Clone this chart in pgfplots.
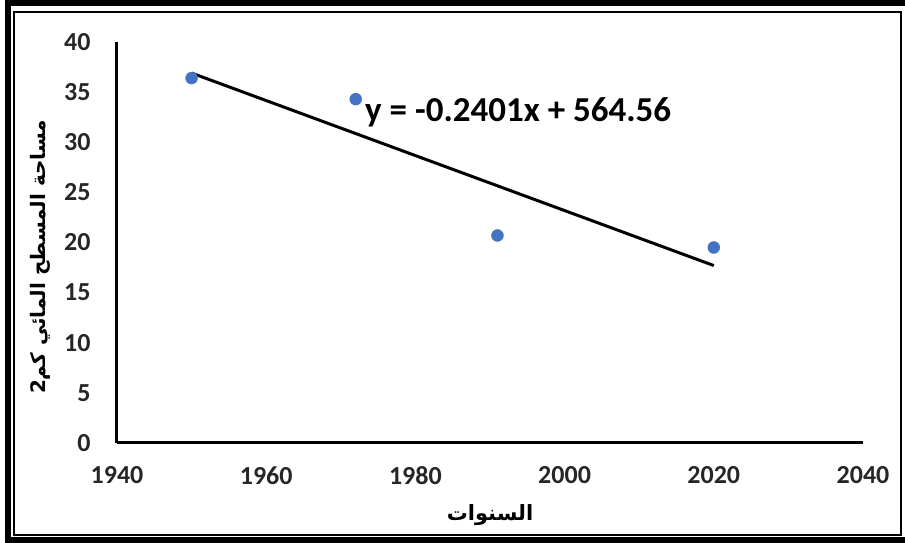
\documentclass[border=0pt]{standalone}
\usepackage{pgfplots}
\pgfplotsset{compat=1.18}
\usepackage{fontspec}
\setmainfont{Carlito}
\newfontfamily\arabicfont[Script=Arabic]{DejaVu Sans}
\TeXXeTstate=1
\definecolor{ptblue}{HTML}{4472C4}
\begin{document}
\begin{tikzpicture}[x=1pt,y=1pt]
\path[use as bounding box] (0,0) rectangle (905,543);
\draw[line width=6pt] (8,3) rectangle (908,540);
\draw[line width=2pt] (14,8) rectangle (901,531);
\begin{axis}[
  at={(117pt,100pt)}, anchor=south west,
  scale only axis, width=746pt, height=401pt,
  xmin=1940, xmax=2040, ymin=0, ymax=40,
  xtick={1940,1960,...,2040}, ytick={0,5,...,40},
  axis x line=bottom, axis y line=left,
  axis line style={-, line width=3pt, black},
  major tick length=0pt,
  /pgf/number format/1000 sep={},
  /pgf/number format/assume math mode=true,
  ticklabel style={font=\fontsize{26}{28}\selectfont\bfseries, text=black!85},
  yticklabel style={xshift=-23pt},
  xticklabel style={yshift=-20pt},
  clip=false,
]
\addplot[black, line width=3pt] coordinates {(1950,36.9) (2020,17.7)};
\addplot[only marks, mark=*, mark size=6pt, mark options={fill=ptblue, draw=ptblue}] coordinates {
(1950,36.4) (1972,34.3) (1991,20.7) (2020,19.5)};
\node[anchor=west, font=\fontsize{35}{38}\selectfont\bfseries] at (axis cs:1972.8,33.0) {y = -0.2401x + 564.56};
\end{axis}
\node[font=\arabicfont\fontsize{21}{24}\selectfont\bfseries] at (490,28) {\beginR السنوات\endR};
\node[rotate=90, font=\arabicfont\fontsize{20}{24}\selectfont\bfseries] at (40,286) {\beginR مساحة المسطح المائي كم2\endR};
\end{tikzpicture}
\end{document}
